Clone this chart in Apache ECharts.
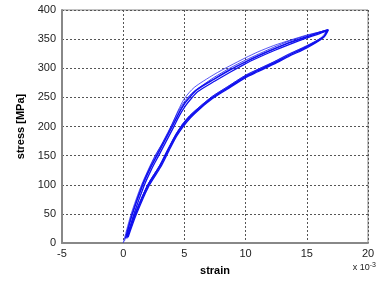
<!DOCTYPE html>
<html><head><meta charset="utf-8">
<script src="https://cdn.jsdelivr.net/npm/echarts@6/dist/echarts.min.js"></script>
<style>html,body{margin:0;padding:0;background:#fff}#c{width:392px;height:281px}</style>
</head><body><div id="c"></div>
<script>
// strain in units of 1e-3, stress in MPa
const xTicks = [-5, 0, 5, 10, 15, 20];
const yTicks = [0, 50, 100, 150, 200, 250, 300, 350, 400];

// cycle 1: thin outer loop
const cycle1Strain = [0.0, 0.65, 1.5, 2.6, 3.3, 4.0, 4.5, 5.0, 5.8, 7.4, 8.7, 10.0, 11.0, 12.3, 13.6, 15.0, 16.0, 16.75, 16.4, 15.0, 13.6, 12.3, 11.0, 10.0, 8.5, 7.3, 6.3, 5.45, 4.85, 4.3, 3.7, 3.0, 2.0, 1.0, 0.35];
const cycle1Stress = [0, 50, 100, 150, 174, 204, 228, 248, 267, 289, 304, 318, 328, 339, 348, 357, 362, 366, 355, 339, 325, 311, 298, 288, 268, 252, 235, 219, 204, 187, 163, 134, 100, 52, 12];

// cycle 2: main loop
const cycle2Strain = [0.2, 0.75, 1.6, 2.2, 2.8, 3.4, 4.0, 4.5, 5.0, 5.5, 6.0, 7.4, 8.7, 10.0, 11.0, 12.3, 13.6, 15.0, 16.0, 16.75, 16.4, 15.0, 13.6, 12.3, 11.0, 10.0, 8.5, 7.3, 6.3, 5.45, 4.85, 4.3, 3.7, 3.0, 2.0, 1.0, 0.35];
const cycle2Stress = [8, 50, 100, 128, 152, 176, 200, 221, 239, 252, 263, 281, 297, 311, 321, 333, 344, 354, 361, 366, 354, 337, 323, 309, 296, 286, 266, 250, 233, 217, 202, 185, 161, 132, 98, 50, 12];

// cycle 3: slightly lower loop
const cycle3Strain = [0.3, 0.85, 1.7, 2.3, 2.9, 3.5, 4.1, 4.6, 5.1, 5.6, 6.1, 7.5, 8.8, 10.0, 11.0, 12.3, 13.6, 15.0, 16.0, 16.65, 16.3, 15.0, 13.6, 12.3, 11.0, 10.0, 8.5, 7.3, 6.3, 5.5, 4.9, 4.35, 3.75, 3.05, 2.05, 1.05, 0.4];
const cycle3Stress = [8, 48, 98, 126, 150, 174, 198, 219, 236, 249, 260, 278, 294, 308, 318, 330, 341, 352, 359, 364, 352, 335, 321, 307, 294, 284, 264, 248, 231, 215, 200, 183, 159, 130, 96, 48, 10];

// cycle 4: thin loop near the main one
const cycle4Strain = [0.1, 0.7, 1.55, 2.4, 3.1, 3.8, 4.4, 4.9, 5.6, 6.5, 7.4, 8.7, 10.0, 12.3, 13.6, 15.0, 16.0, 16.7, 16.2, 15.0, 13.6, 12.3, 10.0, 8.5, 7.3, 6.3, 5.45, 4.8, 3.7, 3.0, 2.0, 1.0, 0.3];
const cycle4Stress = [3, 49, 100, 140, 168, 196, 222, 240, 257, 271, 284, 300, 314, 336, 347, 356, 362, 366, 353, 338, 325, 311, 288, 268, 252, 235, 219, 203, 163, 134, 100, 52, 12];

function pairs(xs, ys) { return xs.map((x, i) => [x, ys[i]]); }

const cycles = [
  { x: cycle1Strain, y: cycle1Stress, w: 0.7 },
  { x: cycle2Strain, y: cycle2Stress, w: 1.6 },
  { x: cycle3Strain, y: cycle3Stress, w: 1.3 },
  { x: cycle4Strain, y: cycle4Stress, w: 0.8 }
];

const chart = echarts.init(document.getElementById('c'), null, { renderer: 'canvas' });
const gridColor = '#555';
chart.setOption({
  animation: false,
  backgroundColor: '#fff',
  textStyle: { fontFamily: 'Liberation Sans' },
  grid: { left: 62, right: 24, top: 10, bottom: 37, show: true, borderColor: '#888', borderWidth: 1, backgroundColor: '#fff' },
  xAxis: {
    type: 'value', min: xTicks[0], max: xTicks[xTicks.length - 1], interval: 5,
    name: 'strain', nameLocation: 'middle', nameGap: 22,
    nameTextStyle: { fontWeight: 'bold', fontSize: 11, color: '#000', fontFamily: 'Liberation Sans' },
    axisLine: { show: true, onZero: false, lineStyle: { color: '#888', width: 2 } },
    axisTick: { show: false },
    axisLabel: { color: '#222', fontSize: 11, margin: 5, fontFamily: 'Liberation Sans' },
    splitLine: { show: true, lineStyle: { color: gridColor, type: [2, 2], width: 1 } }
  },
  yAxis: {
    type: 'value', min: yTicks[0], max: yTicks[yTicks.length - 1], interval: 50,
    name: 'stress [MPa]', nameLocation: 'middle', nameGap: 36, nameRotate: 90,
    nameTextStyle: { fontWeight: 'bold', fontSize: 11, color: '#000', fontFamily: 'Liberation Sans' },
    axisLine: { show: true, onZero: false, lineStyle: { color: '#888', width: 2 } },
    axisTick: { show: false },
    axisLabel: { color: '#222', fontSize: 11, margin: 6, fontFamily: 'Liberation Sans' },
    splitLine: { show: true, lineStyle: { color: gridColor, type: [2, 2], width: 1 } }
  },
  graphic: [{
    type: 'text', right: 16, top: 262,
    style: {
      text: '{a|x 10}{b|-3}',
      rich: {
        a: { fontSize: 9, fill: '#222', fontFamily: 'Liberation Sans' },
        b: { fontSize: 7, fill: '#222', fontFamily: 'Liberation Sans', verticalAlign: 'top', padding: [0, 0, 5, 0] }
      }
    }
  }],
  series: cycles.map(c => ({
    type: 'line', data: pairs(c.x, c.y), showSymbol: false, smooth: 0.25,
    lineStyle: { color: '#1010ee', width: c.w }, silent: true
  }))
});
</script></body></html>
